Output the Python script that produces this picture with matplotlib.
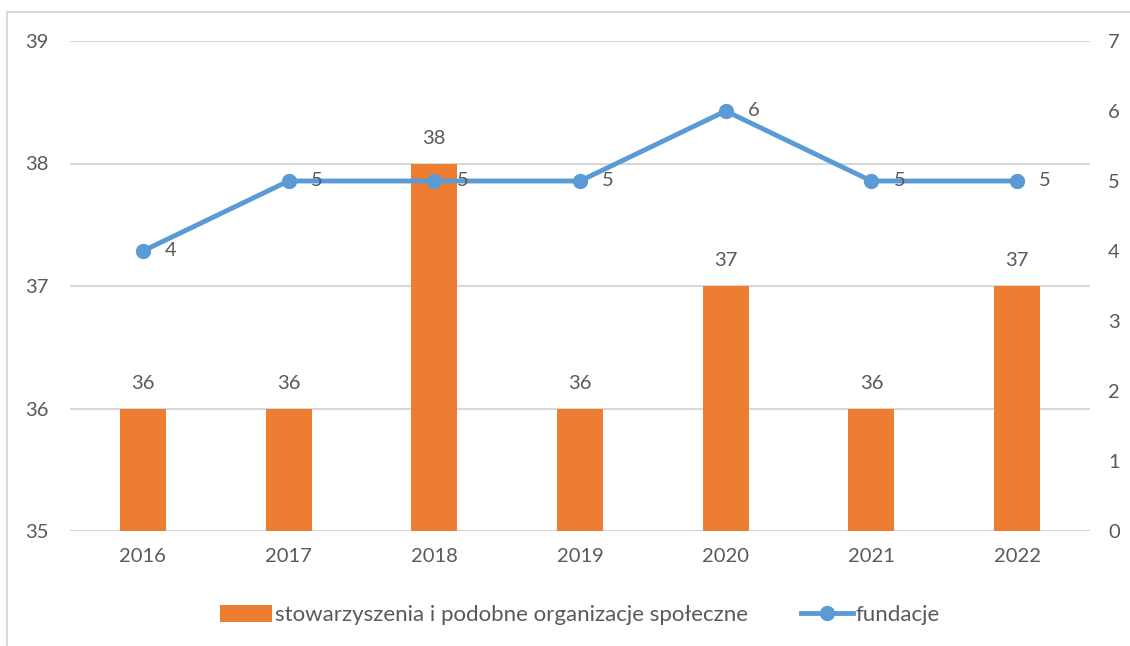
import matplotlib
matplotlib.use("Agg")
import matplotlib.pyplot as plt
from matplotlib.patches import Rectangle
import numpy as np

plt.rcParams['font.family'] = ['Lato', 'DejaVu Sans']

lata = ['2016', '2017', '2018', '2019', '2020', '2021', '2022']
stowarzyszenia = [36, 36, 38, 36, 37, 36, 37]
fundacje = [4, 5, 5, 5, 6, 5, 5]

szary = '#595959'
pomarancz = '#ED7D31'
niebieski = '#5B9BD5'

fig = plt.figure(figsize=(11.3, 6.46), dpi=100)
fig.patches.append(Rectangle((7 / 1130, -0.1), 1.2, 0.1 + 1 - 12 / 646,
                             transform=fig.transFigure, fill=False,
                             edgecolor='#D9D9D9', linewidth=1.5))

ax = fig.add_axes([70 / 1130, 1 - 531 / 646, 1020 / 1130, 490 / 646])
x = np.arange(len(lata))

ax.set_ylim(35, 39)
ax.set_yticks([35, 36, 37, 38, 39])
ax.set_xlim(-0.5, len(lata) - 0.5)
ax.yaxis.grid(True, color='#D9D9D9', linewidth=1.5)
ax.set_axisbelow(True)
for s in ax.spines.values():
    s.set_visible(False)
ax.tick_params(length=0, labelsize=14.5, colors=szary, pad=12)
ax.tick_params(axis='y', pad=15.5)
ax.set_xticks(x)
ax.set_xticklabels(lata)

slupki = ax.bar(x, np.array(stowarzyszenia) - 35, bottom=35, width=0.315,
                color=pomarancz, zorder=2,
                label='stowarzyszenia i podobne organizacje społeczne')
for xi, v in zip(x, stowarzyszenia):
    ax.annotate(str(v), (xi, v), xytext=(0, 12), textcoords='offset points',
                ha='center', va='bottom', fontsize=14.5, color=szary)

ax2 = ax.twinx()
ax2.set_ylim(0, 7)
ax2.set_yticks(range(8))
for s in ax2.spines.values():
    s.set_visible(False)
ax2.tick_params(length=0, labelsize=14.5, colors=szary, pad=13)
linia, = ax2.plot(x, fundacje, color=niebieski, linewidth=3.5, marker='o',
                  markersize=10, label='fundacje', zorder=3)
for xi, v in zip(x, fundacje):
    ax2.annotate(str(v), (xi, v), xytext=(16, 0), textcoords='offset points',
                 ha='left', va='center', fontsize=14.5, color=szary)

fig.legend([slupki, linia], [slupki.get_label(), linia.get_label()],
           loc='center', bbox_to_anchor=(580 / 1130, 1 - 615 / 646), ncol=2,
           frameon=False, fontsize=16, labelcolor=szary, columnspacing=2.4,
           handlelength=2.35, handleheight=0.8, handletextpad=0.12)

fig.savefig('out.png', dpi=100)
